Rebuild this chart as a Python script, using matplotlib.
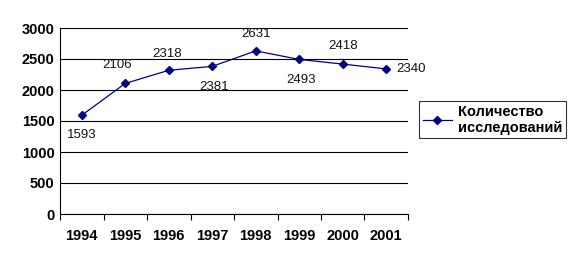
import matplotlib.pyplot as plt
import numpy as np

plt.rcParams['font.family'] = ['Liberation Sans', 'DejaVu Sans']

years = ['1994', '1995', '1996', '1997', '1998', '1999', '2000', '2001']
values = [1593, 2106, 2318, 2381, 2631, 2493, 2418, 2340]
# label offsets in points (dx, dy)
label_offsets = [(0, -14), (-6, 13), (-1, 12), (1, -15), (0, 12), (1, -15), (0, 13), (7, 0)]

fig = plt.figure(figsize=(5.75, 2.64), dpi=100)
ax = fig.add_axes([60 / 575, 1 - 214 / 264, 348 / 575, 186 / 264])

x = np.arange(len(years))
line, = ax.plot(x, values, color='#000080', marker='D', markersize=4, linewidth=0.9,
                label='Количество\nисследований')

for i, (xi, v, (dx, dy)) in enumerate(zip(x, values, label_offsets)):
    ax.annotate(str(v), (xi, v), xytext=(dx, dy), textcoords='offset points',
                ha='left' if i == len(values) - 1 else 'center', va='center',
                fontsize=9.5, color='#111111')

ax.set_xlim(-0.5, 7.5)
ax.set_ylim(0, 3000)
ax.set_yticks(range(0, 3001, 500))
ax.set_xticks(x)
ax.set_xticklabels(years, fontweight='bold', fontsize=10.5)
ax.set_xticks(np.arange(-0.5, 8, 1), minor=True)
ax.tick_params(axis='x', which='major', length=0, pad=11)
ax.tick_params(axis='x', which='minor', length=4, direction='out', width=0.8)
ax.tick_params(axis='y', length=0, pad=4, labelsize=10.5)
for t in ax.get_yticklabels():
    t.set_fontweight('bold')

ax.grid(axis='y', color='black', linewidth=0.8)
ax.set_axisbelow(True)
for s in ['top', 'right']:
    ax.spines[s].set_visible(False)
ax.spines['left'].set_linewidth(0.8)
ax.spines['bottom'].set_linewidth(0.8)

leg = fig.legend(handles=[line], loc='upper left', bbox_to_anchor=(419 / 575, 1 - 101 / 264),
                 frameon=True, fancybox=False, edgecolor='black', handlelength=2.0,
                 handletextpad=0.4, borderpad=0.25, borderaxespad=0,
                 prop={'weight': 'bold', 'size': 10.5})
leg.get_frame().set_linewidth(0.8)

fig.savefig('out.png', dpi=100)
